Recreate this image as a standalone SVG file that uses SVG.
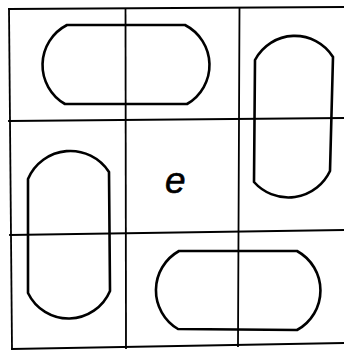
<svg xmlns="http://www.w3.org/2000/svg" width="344" height="352" viewBox="0 0 344 352">
<style>
.grid{fill:none;stroke:#000;stroke-width:1.8;stroke-linecap:square}
.loop{fill:none;stroke:#000;stroke-width:2.6;stroke-linejoin:round}
.lbl{font-family:"Liberation Sans",Arial,sans-serif;font-style:italic;font-size:37px;fill:#000;stroke:#000;stroke-width:0.6}
</style>
<rect width="344" height="352" fill="#fff"/>
<g id="grid" class="grid">
<line x1="9" y1="9" x2="344" y2="7"/>
<line x1="9" y1="121" x2="344" y2="118"/>
<line x1="10" y1="235" x2="344" y2="230"/>
<line x1="12" y1="349" x2="344" y2="343"/>
<line x1="9" y1="9" x2="12" y2="349"/>
<line x1="125.5" y1="9" x2="126" y2="348"/>
<line x1="239.5" y1="8" x2="238" y2="346"/>
</g>
<g id="loop-top" class="loop"><path d="M67,25 L185,25 A45 45 0 0 1 187,104 L65,104 A45 45 0 0 1 67,25 Z"/></g>
<g id="loop-right" class="loop"><path d="M255,60 A45 45 0 0 1 333,57 L330,171 A46 46 0 0 1 254,182 Z"/></g>
<g id="loop-left" class="loop"><path d="M28,179 A46 46 0 0 1 109,172 L110,291 A45 45 0 0 1 28,293 Z"/></g>
<g id="loop-bottom" class="loop"><path d="M179,251 L297,251 A45 45 0 0 1 297,330 L178,329 A45 45 0 0 1 179,251 Z"/></g>
<g id="center"><text class="lbl" x="165" y="193">e</text></g>
</svg>
